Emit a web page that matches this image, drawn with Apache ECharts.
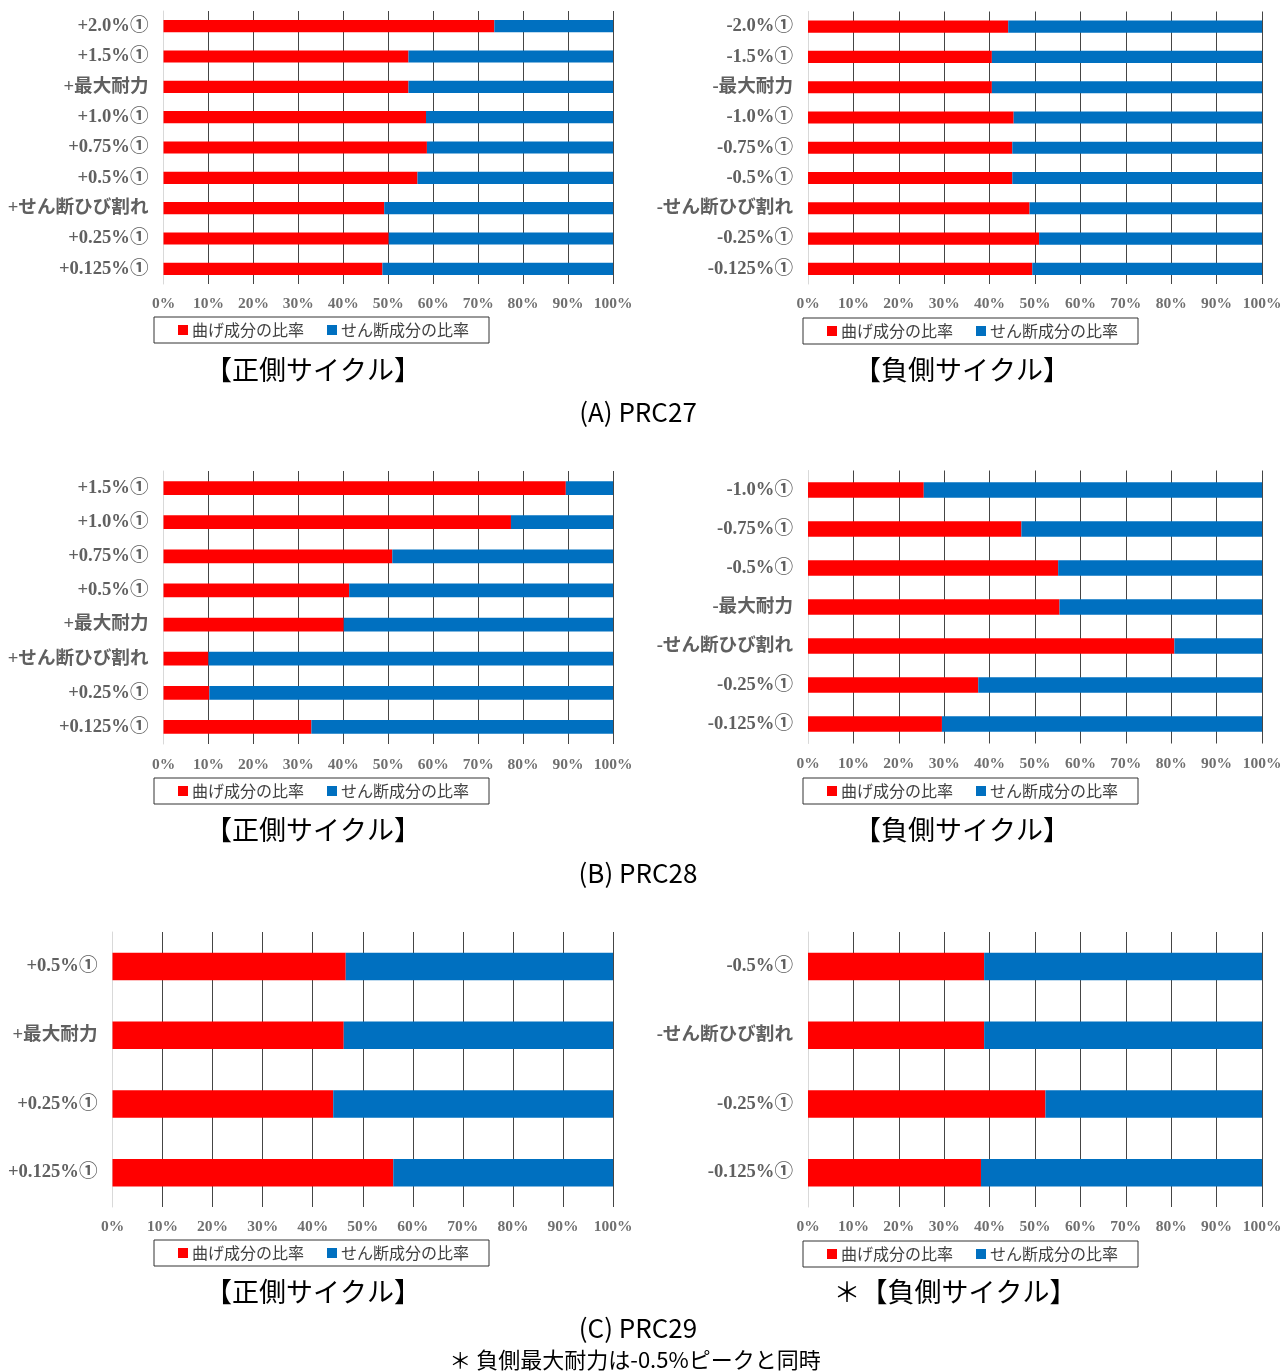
<!DOCTYPE html>
<html><head><meta charset="utf-8">
<script src="https://cdn.jsdelivr.net/npm/echarts@6/dist/echarts.min.js"></script>
<style>html,body{margin:0;padding:0;background:#fff}#c{width:1285px;height:1372px}</style>
</head><body><div id="c"></div>
<script>
// ---- data ----
const seriesNames = ['曲げ成分の比率', 'せん断成分の比率'];

const catsA_pos = ['+2.0%①','+1.5%①','+最大耐力','+1.0%①','+0.75%①','+0.5%①','+せん断ひび割れ','+0.25%①','+0.125%①'];
const bendA_pos = [73.6, 54.5, 54.5, 58.4, 58.6, 56.5, 49.1, 50.1, 48.7];
const shearA_pos = [26.4, 45.5, 45.5, 41.6, 41.4, 43.5, 50.9, 49.9, 51.3];

const catsA_neg = ['-2.0%①','-1.5%①','-最大耐力','-1.0%①','-0.75%①','-0.5%①','-せん断ひび割れ','-0.25%①','-0.125%①'];
const bendA_neg = [44.1, 40.5, 40.5, 45.3, 45.0, 45.0, 48.8, 50.9, 49.4];
const shearA_neg = [55.9, 59.5, 59.5, 54.7, 55.0, 55.0, 51.2, 49.1, 50.6];

const catsB_pos = ['+1.5%①','+1.0%①','+0.75%①','+0.5%①','+最大耐力','+せん断ひび割れ','+0.25%①','+0.125%①'];
const bendB_pos = [89.5, 77.3, 50.9, 41.3, 40.1, 10.0, 10.2, 32.9];
const shearB_pos = [10.5, 22.7, 49.1, 58.7, 59.9, 90.0, 89.8, 67.1];

const catsB_neg = ['-1.0%①','-0.75%①','-0.5%①','-最大耐力','-せん断ひび割れ','-0.25%①','-0.125%①'];
const bendB_neg = [25.5, 47.0, 55.1, 55.4, 80.7, 37.5, 29.5];
const shearB_neg = [74.5, 53.0, 44.9, 44.6, 19.3, 62.5, 70.5];

const catsC_pos = ['+0.5%①','+最大耐力','+0.25%①','+0.125%①'];
const bendC_pos = [46.6, 46.2, 44.1, 56.1];
const shearC_pos = [53.4, 53.8, 55.9, 43.9];

const catsC_neg = ['-0.5%①','-せん断ひび割れ','-0.25%①','-0.125%①'];
const bendC_neg = [38.8, 38.8, 52.3, 38.1];
const shearC_neg = [61.2, 61.2, 47.7, 61.9];

const xTicks = [0, 100, 10]; // min, max, interval (percent)

const sideTitles = ['【正側サイクル】', '【負側サイクル】', '＊【負側サイクル】'];
const specimenTitles = ['(A)\u00a0PRC27', '(B)\u00a0PRC28', '(C)\u00a0PRC29'];
const noteText = '＊ 負側最大耐力は-0.5%ピークと同時';

// ---- layout ----
const panels = [
  {cats: catsA_pos, bend: bendA_pos, shear: shearA_pos, left: 163.5, top: 11, width: 449.5, height: 273, lgLeft: 154, lgTop: 317, margin: 12},
  {cats: catsA_neg, bend: bendA_neg, shear: shearA_neg, left: 808, top: 11.5, width: 454, height: 272.5, lgLeft: 803, lgTop: 318, margin: 12},
  {cats: catsB_pos, bend: bendB_pos, shear: shearB_pos, left: 163.5, top: 471, width: 449.5, height: 273, lgLeft: 154, lgTop: 778, margin: 13},
  {cats: catsB_neg, bend: bendB_neg, shear: shearB_neg, left: 808, top: 470.5, width: 454, height: 273, lgLeft: 803, lgTop: 778, margin: 13},
  {cats: catsC_pos, bend: bendC_pos, shear: shearC_pos, left: 112.5, top: 932, width: 500.5, height: 275, lgLeft: 154, lgTop: 1240, margin: 12},
  {cats: catsC_neg, bend: bendC_neg, shear: shearC_neg, left: 808, top: 932, width: 454, height: 275, lgLeft: 803, lgTop: 1241, margin: 12}
];

const RED = '#FF0000', BLUE = '#0070C0';
const serifFont = '"Liberation Serif","Times New Roman","Noto Sans CJK JP",serif';
const jpFont = '"Noto Sans CJK JP","Noto Sans",sans-serif';

const grid = [], xAxis = [], yAxis = [], series = [], legend = [];
panels.forEach((p, i) => {
  grid.push({left: p.left, top: p.top, width: p.width, height: p.height, containLabel: false});
  xAxis.push({
    type: 'value', gridIndex: i, min: xTicks[0], max: xTicks[1], interval: xTicks[2],
    axisLine: {show: false}, axisTick: {show: false},
    splitLine: {show: true, showMinLine: false, lineStyle: {color: '#454545', width: 1}},
    axisLabel: {formatter: '{value}%', fontFamily: serifFont, fontWeight: 'bold', fontSize: 15.5, color: '#6f6f6f', margin: p.margin}
  });
  yAxis.push({
    type: 'category', gridIndex: i, data: p.cats, inverse: true,
    axisTick: {show: false},
    axisLine: {show: true, lineStyle: {color: '#d9d9d9', width: 1}},
    axisLabel: {fontFamily: serifFont, fontWeight: 'bold', fontSize: 18.6, color: '#606060', margin: 15}
  });
  series.push({name: seriesNames[0], type: 'bar', stack: 's' + i, xAxisIndex: i, yAxisIndex: i, data: p.bend, barWidth: '40%', itemStyle: {color: RED}, animation: false});
  series.push({name: seriesNames[1], type: 'bar', stack: 's' + i, xAxisIndex: i, yAxisIndex: i, data: p.shear, barWidth: '40%', itemStyle: {color: BLUE}, animation: false});
  legend.push({
    data: seriesNames, left: p.lgLeft, top: p.lgTop, orient: 'horizontal',
    icon: 'rect', itemWidth: 10, itemHeight: 10, itemGap: 23,
    padding: [5, 20, 5, 24], borderColor: '#333', borderWidth: 1,
    textStyle: {fontFamily: jpFont, fontSize: 16, color: '#404040', padding: [0, 0, 0, -1]},
    selectedMode: false
  });
});

function ttl(text, x, y, size) {
  return {text: text, left: x, top: y - size / 2, textAlign: 'center', padding: 0,
    textStyle: {fontFamily: jpFont, fontWeight: 'normal', fontSize: size, color: '#000', lineHeight: size}};
}
const title = [
  ttl(sideTitles[0], 313, 370, 27), ttl(sideTitles[1], 962, 370, 27), ttl(specimenTitles[0], 638, 412, 26),
  ttl(sideTitles[0], 313, 830, 27), ttl(sideTitles[1], 962, 830, 27), ttl(specimenTitles[1], 638, 873, 26),
  ttl(sideTitles[0], 313, 1292, 27), ttl(sideTitles[2], 955, 1292, 27), ttl(specimenTitles[2], 638, 1328, 26),
  ttl(noteText, 635, 1360, 22)
];

const chart = echarts.init(document.getElementById('c'), null, {renderer: 'canvas', width: 1285, height: 1372});
chart.setOption({backgroundColor: '#fff', animation: false, title, grid, xAxis, yAxis, legend, series});
</script></body></html>
